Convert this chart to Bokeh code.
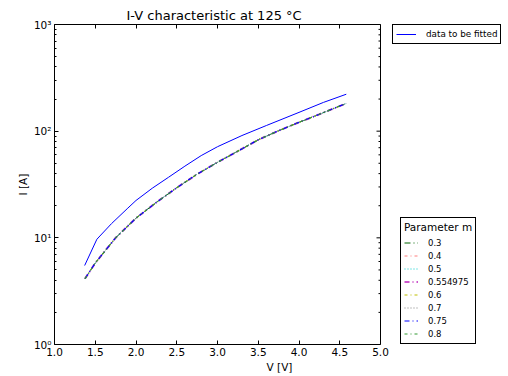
from bokeh.plotting import figure
from bokeh.models import (LinearAxis, LogAxis, FixedTicker, Legend, LegendItem,
                          Range1d, CustomJSTickFormatter, Span)
from bokeh.embed import file_html
from bokeh.resources import INLINE
import math

# measured data
data_v = [1.37, 1.52, 1.7, 1.9, 2.0, 2.2, 2.4, 2.6, 2.8, 3.0, 3.3, 3.6, 4.0, 4.3, 4.58]
data_i = [5.5, 9.7, 13.6, 19.0, 22.4, 29.2, 37.0, 47.0, 59.0, 71.5, 91.0, 113.0, 150.0, 186.0, 222.0]

# fitted curves (all parameters overlap visually)
fit_v = [1.375, 1.5, 1.75, 2.0, 2.25, 2.5, 2.75, 3.0, 3.25, 3.5, 3.75, 4.0, 4.25, 4.58]
fit_i = [4.15, 5.8, 10.0, 15.3, 21.5, 29.5, 39.5, 51.0, 65.0, 83.0, 101.0, 121.0, 144.0, 182.0]

m_labels = ["0.3", "0.4", "0.5", "0.554975", "0.6", "0.7", "0.75", "0.8"]
m_colors = ["#006400", "#ff7f7f", "#00cccc", "#cc55cc", "#bfbf00", "#7f7f7f", "#0000ff", "#339933"]
m_dashes = ["6 3 1 3", "3 3 1 3", "1 2", "5 3 1 3", "3 3 1 3", "1 2", "5 3 1 3", "3 3 1 3"]
m_widths = [1, 1.2, 1, 2, 1, 1, 1.2, 1.2]

x_ticks = [1.0, 1.5, 2.0, 2.5, 3.0, 3.5, 4.0, 4.5, 5.0]
y_ticks = [1, 10, 100, 1000]
y_minor = [m * 10 ** e for e in range(3) for m in range(2, 10)]

X_MIN, X_MAX = 1.0, 5.0
FONT = "DejaVu Sans"

AXES_W = 326          # width of the axes box in px
EXTRA_W = 124         # legend area to the right of the axes box
FRAME_W = AXES_W + EXTRA_W
x_end = X_MIN + (X_MAX - X_MIN) * FRAME_W / AXES_W

p = figure(width=508, height=374, frame_width=FRAME_W, frame_height=320,
           x_axis_type=None, y_axis_type="log", y_axis_location=None,
           x_range=Range1d(X_MIN, x_end), y_range=Range1d(1, 1000),
           output_backend="svg", toolbar_location=None,
           min_border_left=54, min_border_top=24, min_border_right=4,
           min_border_bottom=10)
p.title.text = "I-V characteristic at 125 °C"
p.title.align = "left"
p.title.offset = 72
p.title.text_font = FONT
p.title.text_font_size = "13px"
p.title.text_font_style = "normal"
p.title.text_color = "black"
p.title.standoff = 3
p.xgrid.visible = False
p.ygrid.visible = False
p.outline_line_color = None

sup = CustomJSTickFormatter(code="""
const s = {"0": "\u2070", "1": "\u00b9", "2": "\u00b2", "3": "\u00b3"};
return "10" + s[String(Math.round(Math.log10(tick)))];
""")
fix1 = CustomJSTickFormatter(code="return tick.toFixed(1);")
blank = CustomJSTickFormatter(code="return '';")


def style(ax):
    ax.axis_line_color = "black"
    ax.axis_line_width = 1
    ax.major_tick_in = 4
    ax.major_tick_out = 0
    ax.minor_tick_in = 2
    ax.minor_tick_out = 0
    ax.major_tick_line_color = "black"
    ax.minor_tick_line_color = "black"
    ax.major_label_text_font = FONT
    ax.major_label_text_font_size = "10.5px"
    ax.major_label_text_color = "black"
    ax.major_label_standoff = 3
    ax.axis_label_text_font = FONT
    ax.axis_label_text_font_size = "10.5px"
    ax.axis_label_text_font_style = "normal"
    ax.axis_label_text_color = "black"
    ax.axis_label_standoff = 2


xb = LinearAxis(ticker=FixedTicker(ticks=x_ticks), axis_label="V [V]",
                formatter=fix1, bounds=(X_MIN, X_MAX))
style(xb)
xt = LinearAxis(ticker=FixedTicker(ticks=x_ticks), formatter=blank,
                bounds=(X_MIN, X_MAX))
style(xt)
xt.major_label_standoff = 0
yl = LogAxis(ticker=FixedTicker(ticks=y_ticks, minor_ticks=y_minor),
             axis_label="I [A]", formatter=sup)
style(yl)
p.add_layout(xb, "below")
p.add_layout(xt, "above")
p.add_layout(yl, "left")

# right spine of the axes box at x = X_MAX, with inward ticks
p.add_layout(Span(location=X_MAX, dimension="height", line_color="black", line_width=1))
p.ray(x=[X_MAX] * len(y_ticks), y=y_ticks, length=4, length_units="screen",
      angle=math.pi, line_color="black", line_width=1)
p.ray(x=[X_MAX] * len(y_minor), y=y_minor, length=2, length_units="screen",
      angle=math.pi, line_color="black", line_width=1)

r_data = p.line(data_v, data_i, line_color="#0000ff", line_width=1)

fit_items = []
for lab, col, dash, w in zip(m_labels, m_colors, m_dashes, m_widths):
    r = p.line(fit_v, fit_i, line_color=col, line_dash=dash, line_width=w)
    fit_items.append(LegendItem(label=lab, renderers=[r]))


def style_legend(lg):
    lg.border_line_color = "black"
    lg.border_line_alpha = 1
    lg.border_line_width = 1
    lg.background_fill_color = "white"
    lg.background_fill_alpha = 1
    lg.label_text_font = FONT
    lg.label_text_font_size = "8.5px"
    lg.label_text_color = "black"
    lg.glyph_width = 14
    lg.spacing = 0
    lg.margin = 0
    lg.label_standoff = 10


leg1 = Legend(items=[LegendItem(label="data to be fitted", renderers=[r_data])],
              location=(338, 300))
style_legend(leg1)
leg1.padding = 3
leg1.glyph_height = 12
leg1.label_height = 12
leg1.glyph_width = 20
leg1.label_standoff = 10
leg1.label_text_font_size = "8.8px"

leg2 = Legend(items=fit_items, location=(346, 0), title="Parameter m")
style_legend(leg2)
leg2.padding = 3
leg2.glyph_height = 13
leg2.label_height = 13
leg2.title_text_font = FONT
leg2.title_text_font_size = "10.5px"
leg2.title_text_font_style = "normal"
leg2.title_text_color = "black"
leg2.title_standoff = 3

p.add_layout(leg1)
p.add_layout(leg2)

with open("out.html", "w", encoding="utf-8") as f:
    f.write(file_html(p, INLINE))
